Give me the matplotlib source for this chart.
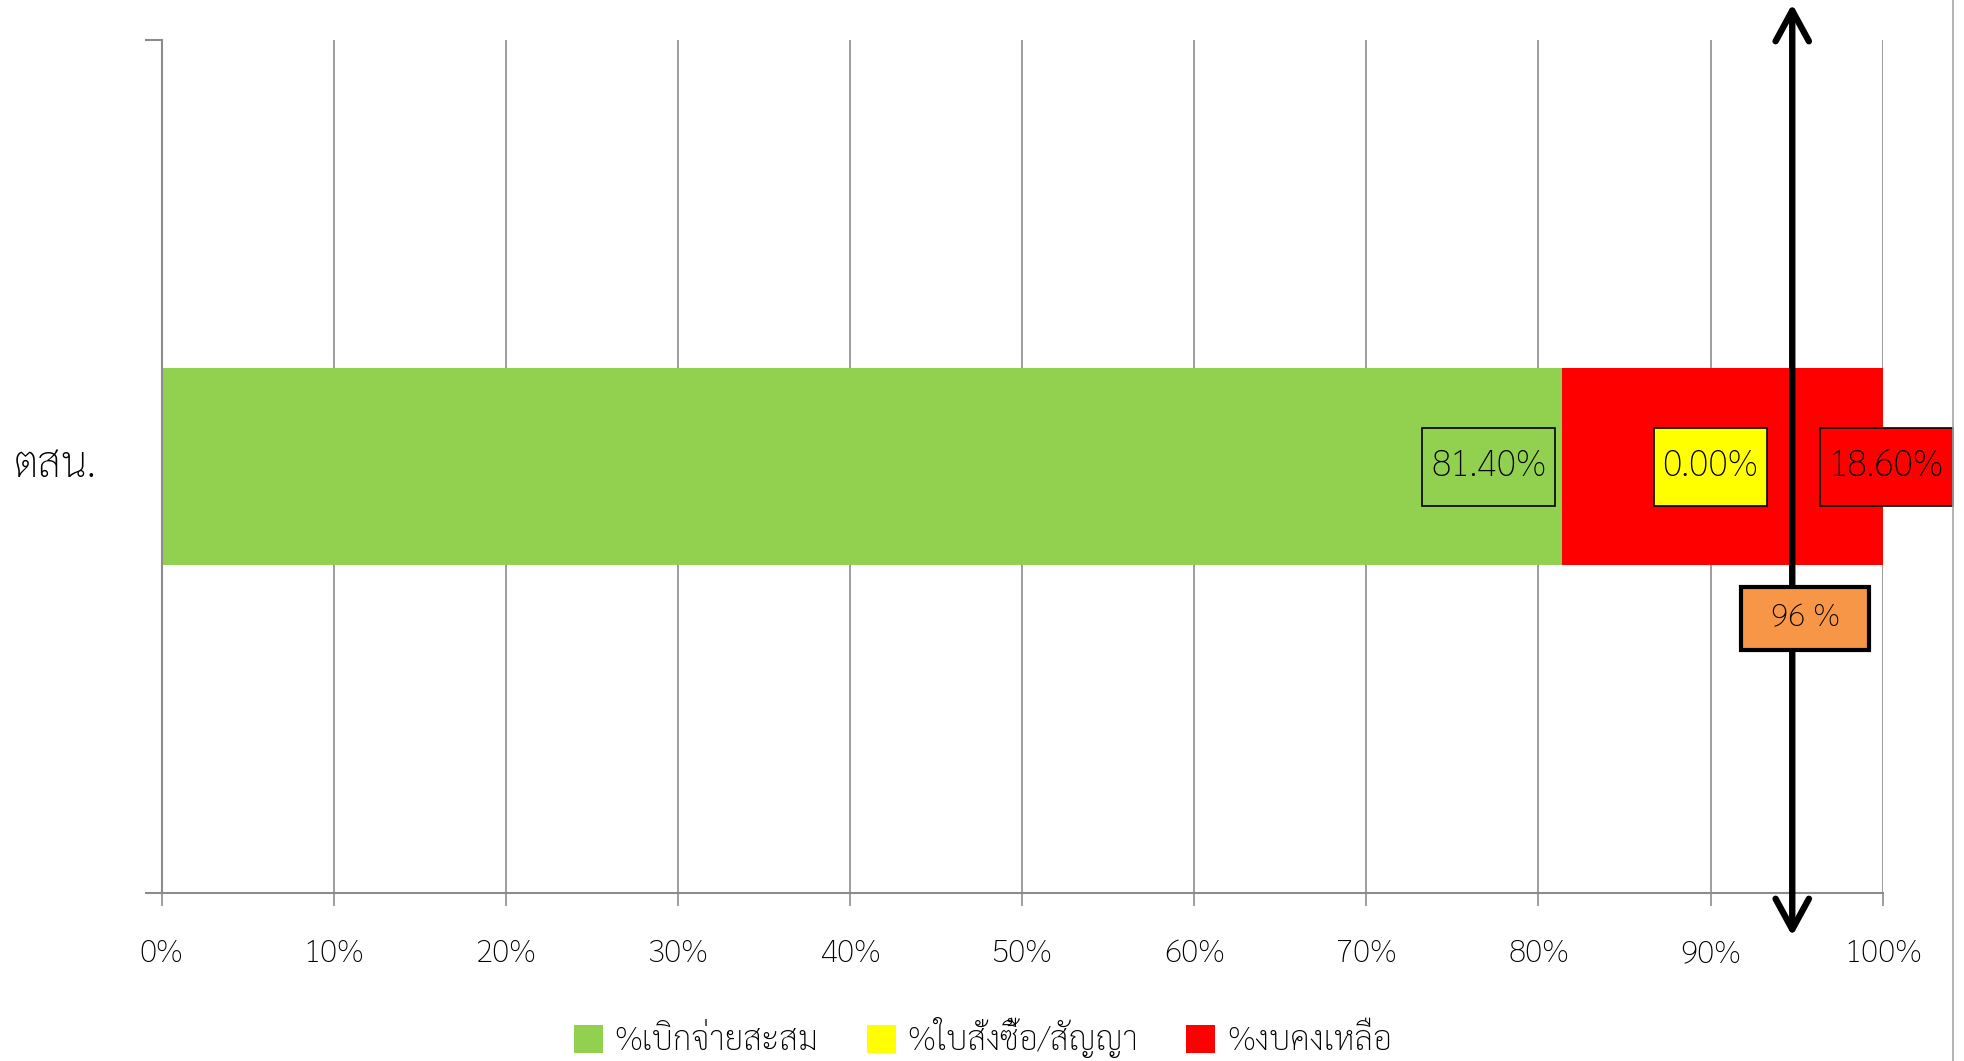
import matplotlib
matplotlib.use("Agg")
from matplotlib import pyplot as plt
from matplotlib import transforms as mtransforms
from matplotlib.patches import Rectangle
import numpy as np

# %% Data
category = "ตสน."
series_names = ["%เบิกจ่ายสะสม", "%ใบสั่งซื้อ/สัญญา", "%งบคงเหลือ"]
series_values = [81.40, 0.00, 18.60]
series_colors = ["#92D050", "#FFFF00", "#FF0000"]
target_value = 96
target_label = "96 %"
xticks = list(range(0, 101, 10))
xtick_labels = [f"{t}%" for t in xticks]

plt.rcParams['font.family'] = ['Sarabun', 'Loma', 'DejaVu Sans']
plt.rcParams['font.weight'] = 'light'
plt.rcParams['text.color'] = 'black'

W, H = 1964, 1061
fig = plt.figure(figsize=(W / 100, H / 100), dpi=100)
ax = fig.add_axes([161.6 / W, 1 - 893 / H, 1721 / W, 853 / H])

# %% Stacked bar
left = 0
for name, val, col in zip(series_names, series_values, series_colors):
    ax.barh(0, val, left=left, height=0.232, color=col, label=name, zorder=2)
    left += val

ax.set_xlim(0, 100)
ax.set_ylim(-0.5, 0.5)
ax.set_xticks(xticks)
ax.set_xticklabels(xtick_labels, fontsize=23, color="black")
ax.set_yticks([-0.5, 0.5])
ax.set_yticklabels([])
ax.tick_params(axis='x', length=9, width=1.2, color="#8c8c8c", pad=24)
ax.tick_params(axis='y', length=12, width=1.5, color="#8c8c8c")
ax.grid(axis='x', color="#8c8c8c", lw=1.2, zorder=0)
ax.set_axisbelow(True)
for s in ['top', 'right']:
    ax.spines[s].set_visible(False)
for s in ['left', 'bottom']:
    ax.spines[s].set_color("#8c8c8c")
    ax.spines[s].set_linewidth(1.5)
ax.text(-0.086, 0.5, category, transform=ax.transAxes, fontsize=30,
        ha='left', va='center')


def boxed_label(x, y, text, fc, w, h, lw, fs, z=5):
    tr = mtransforms.Affine2D() + mtransforms.ScaledTranslation(x, y, ax.transData)
    ax.add_artist(Rectangle((-w / 2, -h / 2), w, h, transform=tr, facecolor=fc,
                            edgecolor="black", lw=lw, zorder=z, clip_on=False))
    ax.text(x, y, text, ha='center', va='center', fontsize=fs, zorder=z + 1,
            clip_on=False)


# data labels (moved by hand in the original chart)
label_x = [77.1, 90.0, 100.2]
label_w = [133, 113, 133]
for lx, lw_, val, col in zip(label_x, label_w, series_values, series_colors):
    boxed_label(lx, 0, f"{val:.2f}%", col, lw_, 78, 1.2, 26)

# %% Target arrow
x_arrow = target_value - 1.25
ax.annotate("", xy=(x_arrow, 1 - 4 / H), xytext=(x_arrow, 1 - 936 / H),
            xycoords=('data', 'figure fraction'),
            textcoords=('data', 'figure fraction'),
            arrowprops=dict(arrowstyle='<->,head_length=1.1,head_width=0.6',
                            lw=4.6, color='black', shrinkA=0, shrinkB=0,
                            capstyle='round', joinstyle='round',
                            mutation_scale=20),
            zorder=7, annotation_clip=False)
boxed_label(x_arrow + 0.75, (466 - 617.5) / 853, target_label, "#F79646",
            128, 63, 3.0, 23, z=8)

# %% Legend and border
leg = fig.legend(loc='center', bbox_to_anchor=(983 / W, 1 - 1038 / H), ncol=3,
                 frameon=False, fontsize=24, handlelength=0.87, handleheight=0.92,
                 handletextpad=0.35, columnspacing=1.45)
fig.add_artist(plt.Line2D([1953 / W, 1953 / W], [0, 1], color="#a6a6a6", lw=1.2))

fig.savefig("out.png", dpi=100)
